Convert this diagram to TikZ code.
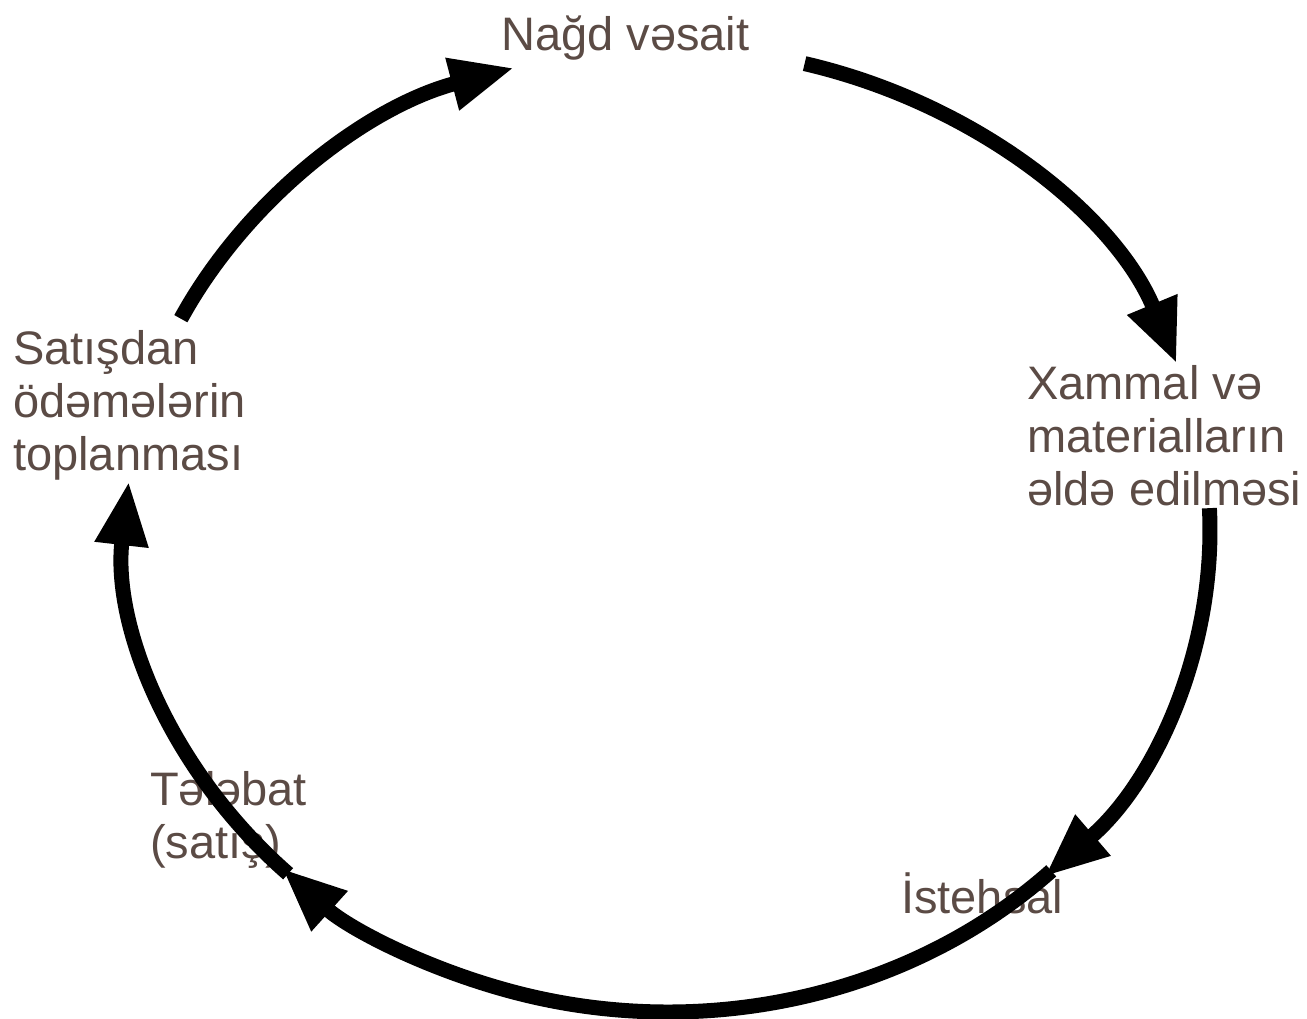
\documentclass[tikz,border=0pt]{standalone}
\usepackage{fontspec}
\setmainfont{Liberation Sans}
\usepackage{tikz}
\usetikzlibrary{arrows.meta}
\definecolor{cyclabel}{HTML}{5B4B45}
\tikzset{
  stage/.style={inner sep=0pt,anchor=base west,align=left,text=cyclabel,
                font=\fontsize{47}{53}\selectfont},
  ring/.style={x radius=542,y radius=482},
  cycarrow/.style={line width=15pt,draw=black,-{Triangle[length=64pt,width=50pt]}}
}

\begin{document}
\begin{tikzpicture}[x=1pt,y=-1pt]
    \useasboundingbox (0,0) rectangle (1307,1018);
    \coordinate (hub) at (668,530);

    % base of multi-line labels sits on their last line
    \node[stage] (cash) at (501,50) {Nağd vəsait};
    \node[stage] (supply) at (1027,505) {Xammal və\\materialların\\əldə edilməsi};
    \node[stage] (produce) at (901,913) {İstehsal};
    \node[stage] (demand) at (150,858) {Tələbat\\(satış)};
    \node[stage] (collect) at (13,470) {Satışdan\\ödəmələrin\\toplanması};

    % start points on the ring
    \path (hub) ++(-154:542 and 482) coordinate (collectout);
    \path (hub) ++(-75.4:542 and 482) coordinate (cashout);
    \path (hub) ++(-2.6:542 and 482) coordinate (supplyout);
    \path (hub) ++(45:542 and 482) coordinate (produceout);
    \path (hub) ++(134.5:542 and 482) coordinate (demandout);

    \draw[cycarrow] (collectout) arc[ring,start angle=-154,end angle=-106.5];
    \draw[cycarrow] (cashout) arc[ring,start angle=-75.4,end angle=-20.2];
    \draw[cycarrow] (supplyout) arc[ring,start angle=-2.6,end angle=46];
    \draw[cycarrow] (produceout) arc[ring,start angle=45,end angle=135.4];
    \draw[cycarrow] (demandout) arc[ring,start angle=134.5,end angle=185.8];
\end{tikzpicture}
\end{document}
